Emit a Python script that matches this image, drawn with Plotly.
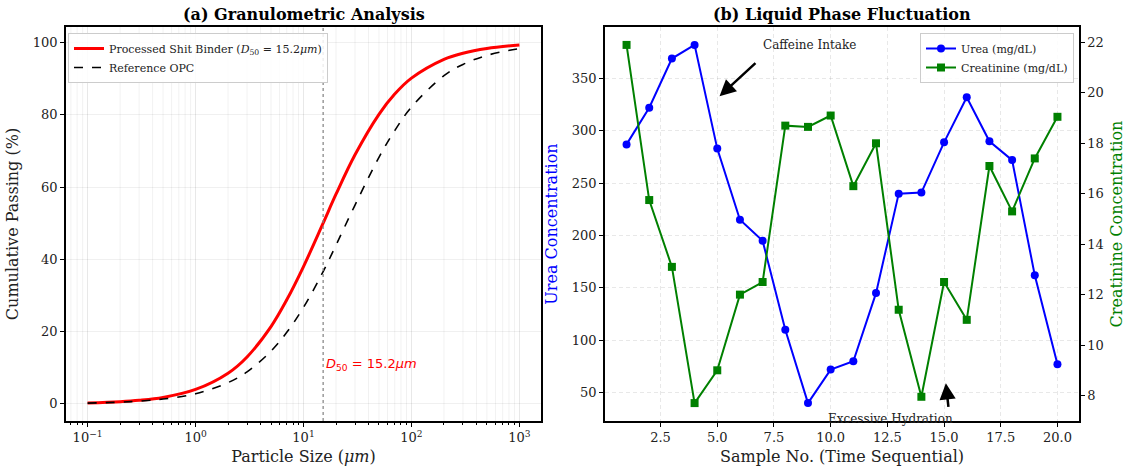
import numpy as np
import plotly.graph_objects as go

# ---------------- data ----------------
particle_size = [0.1, 0.2, 0.3, 0.5, 1, 2, 3, 5, 7, 10, 15.2, 20, 30, 50, 70, 100, 200, 300, 500, 1000]
processed_pass = [0.28, 0.63, 1.0, 1.8, 4.0, 8.5, 13.0, 21.4, 28.8, 38.0, 50.0, 58.0, 68.9, 80.1, 85.7, 90.1, 95.3, 97.0, 98.3, 99.3]
reference_pass = [0.23, 0.49, 0.77, 1.34, 2.8, 5.9, 8.85, 14.6, 19.8, 26.7, 36.6, 43.9, 55.0, 68.2, 75.6, 82.1, 90.8, 93.9, 96.4, 98.3]
d50 = 15.2

samples = list(range(1, 21))
urea = [287, 322, 369, 382, 283, 215, 195, 110, 40, 72, 80, 145, 240, 241, 289, 332, 290, 272, 162, 77]
creatinine = [21.9, 15.75, 13.1, 7.7, 9.0, 12.0, 12.5, 18.7, 18.65, 19.1, 16.3, 18.0, 11.4, 7.95, 12.5, 11.0, 17.1, 15.3, 17.4, 19.05]

x_log_ticks = [0.1, 1, 10, 100, 1000]
x_log_ticktext = ["10<sup>−1</sup>", "10<sup>0</sup>", "10<sup>1</sup>", "10<sup>2</sup>", "10<sup>3</sup>"]
x_minor = [m * 10.0 ** k for k in range(-2, 4) for m in range(2, 10)]
left_yticks = [0, 20, 40, 60, 80, 100]
x2_ticks = [2.5, 5.0, 7.5, 10.0, 12.5, 15.0, 17.5, 20.0]
urea_ticks = [50, 100, 150, 200, 250, 300, 350]
creat_ticks = [8, 10, 12, 14, 16, 18, 20, 22]

FONT = "DejaVu Serif"
W, H = 1129, 468

def margin_range(vals, frac=0.05):
    lo, hi = min(vals), max(vals)
    d = (hi - lo) * frac
    return [lo - d, hi + d]

left_yrange = margin_range(processed_pass + reference_pass)
x2_range = margin_range(samples)
urea_range = margin_range(urea)
creat_range = margin_range(creatinine)

fig = go.Figure()

# minor grid lines (left panel)
for xm in x_minor:
    if 0.06 < xm < 1600:
        fig.add_trace(go.Scatter(x=[xm, xm], y=left_yrange, mode="lines",
                                 line=dict(color="rgba(0,0,0,0.07)", width=0.8),
                                 showlegend=False, hoverinfo="skip", xaxis="x", yaxis="y"))

fig.add_trace(go.Scatter(x=particle_size, y=processed_pass, mode="lines", line_shape="spline",
                         line=dict(color="red", width=3),
                         name="Processed Shit Binder (<i>D</i><sub>50</sub> = 15.2<i>μm</i>)",
                         xaxis="x", yaxis="y", legend="legend"))
fig.add_trace(go.Scatter(x=particle_size, y=reference_pass, mode="lines", line_shape="spline",
                         line=dict(color="black", width=1.6, dash="dash"),
                         name="Reference OPC", xaxis="x", yaxis="y", legend="legend"))
fig.add_trace(go.Scatter(x=[d50, d50], y=left_yrange, mode="lines",
                         line=dict(color="gray", width=1.2, dash="dot"),
                         showlegend=False, hoverinfo="skip", xaxis="x", yaxis="y"))

fig.add_trace(go.Scatter(x=samples, y=urea, mode="lines+markers",
                         line=dict(color="blue", width=2), marker=dict(symbol="circle", size=8, color="blue"),
                         name="Urea (mg/dL)", xaxis="x2", yaxis="y2", legend="legend2"))
fig.add_trace(go.Scatter(x=samples, y=creatinine, mode="lines+markers",
                         line=dict(color="green", width=2), marker=dict(symbol="square", size=8, color="green"),
                         name="Creatinine (mg/dL)", xaxis="x2", yaxis="y3", legend="legend2"))

ydom = [1 - 421 / H, 1 - 27 / H]
axis_common = dict(showline=True, linecolor="black", linewidth=1.5, mirror=True,
                   ticks="outside", ticklen=4, tickcolor="black", tickwidth=1, automargin=False,
                   tickfont=dict(family=FONT, size=13, color="#222"), zeroline=False)

fig.update_layout(
    width=W, height=H, margin=dict(l=0, r=0, t=0, b=0, autoexpand=False),
    paper_bgcolor="white", plot_bgcolor="white",
    font=dict(family=FONT, color="#222"),
    xaxis=dict(domain=[66 / W, 541 / W], type="log", range=[-1.2, 3.2],
               tickvals=x_log_ticks, ticktext=x_log_ticktext,
               showgrid=True, gridcolor="rgba(0,0,0,0.09)",
               minor=dict(ticks="outside", ticklen=2, tickcolor="black", tickvals=x_minor, showgrid=False),
               title=dict(text="Particle Size (<i>μm</i>)", font=dict(family=FONT, size=16), standoff=6),
               anchor="y", **axis_common),
    yaxis=dict(domain=ydom, range=left_yrange, tickvals=left_yticks,
               showgrid=True, gridcolor="rgba(0,0,0,0.06)",
               title=dict(text="Cumulative Passing (%)", font=dict(family=FONT, size=16), standoff=10),
               anchor="x", **axis_common),
    xaxis2=dict(domain=[605 / W, 1079 / W], range=x2_range, tickvals=x2_ticks, tickformat=".1f",
                showgrid=True, gridcolor="rgba(0,0,0,0.09)", griddash="4px,3px",
                title=dict(text="Sample No. (Time Sequential)", font=dict(family=FONT, size=16), standoff=6),
                anchor="y2", **axis_common),
    yaxis2=dict(domain=ydom, range=urea_range, tickvals=urea_ticks,
                showgrid=True, gridcolor="rgba(0,0,0,0.09)", griddash="4px,3px",
                title=dict(text="Urea Concentration", font=dict(family=FONT, size=16, color="blue"), standoff=10),
                anchor="x2", **axis_common),
    yaxis3=dict(domain=ydom, range=creat_range, tickvals=creat_ticks, overlaying="y2", side="right",
                showgrid=False,
                title=dict(text="Creatinine Concentration", font=dict(family=FONT, size=16, color="green"), standoff=8),
                anchor="x2", **{k: v for k, v in axis_common.items() if k != "mirror"}),
    legend=dict(x=68 / W, y=1 - 33 / H, xanchor="left", yanchor="top",
                bgcolor="rgba(255,255,255,0.85)", bordercolor="#cccccc", borderwidth=1,
                font=dict(family=FONT, size=11, color="#222"), itemwidth=30, tracegroupgap=0),
    legend2=dict(x=1074 / W, y=1 - 33 / H, xanchor="right", yanchor="top",
                 bgcolor="rgba(255,255,255,0.85)", bordercolor="#cccccc", borderwidth=1,
                 font=dict(family=FONT, size=11, color="#222"), itemwidth=30, tracegroupgap=0),
    showlegend=True,
)

annotations = [
    dict(text="<b>(a) Granulometric Analysis</b>", xref="paper", yref="paper",
         x=(66 + 541) / 2 / W, y=1 - 14 / H, xanchor="center", yanchor="middle", showarrow=False,
         font=dict(family=FONT, size=16, color="black")),
    dict(text="<b>(b) Liquid Phase Fluctuation</b>", xref="paper", yref="paper",
         x=(605 + 1079) / 2 / W, y=1 - 14 / H, xanchor="center", yanchor="middle", showarrow=False,
         font=dict(family=FONT, size=16, color="black")),
    dict(text="<i>D</i><sub>50</sub> = 15.2<i>μm</i>", xref="x", yref="y",
         x=float(np.log10(d50)) + 0.01, y=11, xanchor="left", yanchor="middle", showarrow=False,
         font=dict(family="DejaVu Sans", size=13, color="red")),
    # caffeine arrow
    dict(text="", xref="x2", yref="y2", x=5.1, y=333, axref="x2", ayref="y2", ax=6.75, ay=366,
         showarrow=True, arrowhead=2, arrowsize=1.3, arrowwidth=2.5, arrowcolor="black"),
    dict(text="Caffeine Intake", xref="x2", yref="y2", x=6.95, y=382, xanchor="left", yanchor="middle",
         showarrow=False, font=dict(family=FONT, size=12, color="#222")),
    # hydration arrow
    dict(text="", xref="x2", yref="y2", x=15.08, y=59, axref="x2", ayref="y2", ax=15.2, ay=35,
         showarrow=True, arrowhead=2, arrowsize=1.3, arrowwidth=2.5, arrowcolor="black"),
    dict(text="Excessive Hydration", xref="x2", yref="y2", x=12.62, y=25, xanchor="center", yanchor="middle",
         showarrow=False, font=dict(family=FONT, size=12, color="#222")),
]
fig.update_layout(annotations=annotations)

fig.write_html("out.html", config={"displayModeBar": False},
               post_script="document.body.style.margin='0';document.body.style.padding='0';")
